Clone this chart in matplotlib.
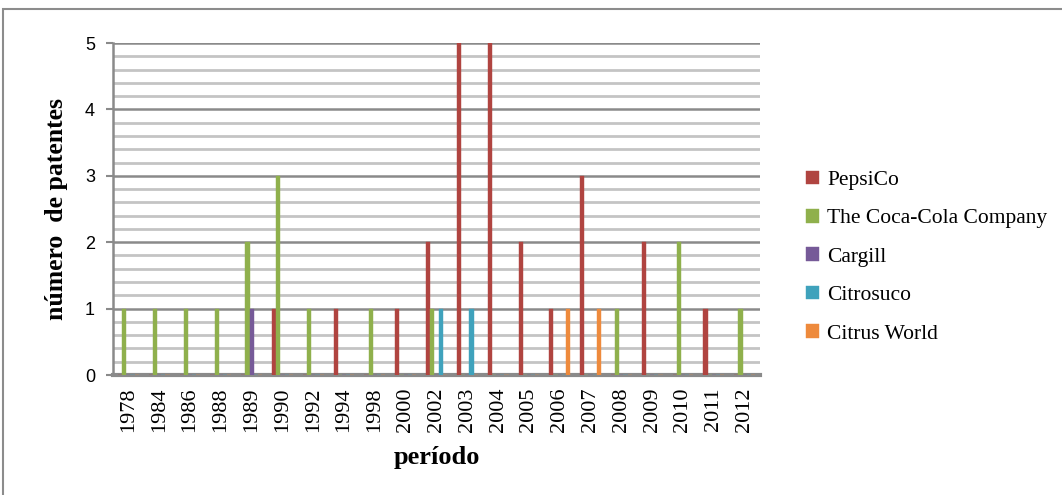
import numpy as np
import matplotlib
matplotlib.use('Agg')
import matplotlib.pyplot as plt
from matplotlib.patches import Rectangle

# dados do gráfico
anos = ['1978', '1984', '1986', '1988', '1989', '1990', '1992', '1994', '1998', '2000', '2002',
        '2003', '2004', '2005', '2006', '2007', '2008', '2009', '2010', '2011', '2012']
pepsico = [0, 0, 0, 0, 0, 1, 0, 1, 0, 1, 2, 5, 5, 2, 1, 3, 0, 2, 0, 1, 0]
cocacola = [1, 1, 1, 1, 2, 3, 1, 0, 1, 0, 1, 0, 0, 0, 0, 0, 1, 0, 2, 0, 1]
cargill = [0, 0, 0, 0, 1, 0, 0, 0, 0, 0, 0, 0, 0, 0, 0, 0, 0, 0, 0, 0, 0]
citrosuco = [0, 0, 0, 0, 0, 0, 0, 0, 0, 0, 1, 1, 0, 0, 0, 0, 0, 0, 0, 0, 0]
citrusworld = [0, 0, 0, 0, 0, 0, 0, 0, 0, 0, 0, 0, 0, 0, 1, 1, 0, 0, 0, 0, 0]

series = [('PepsiCo', pepsico, '#B04440'),
          ('The Coca-Cola Company', cocacola, '#8FB04C'),
          ('Cargill', cargill, '#765A98'),
          ('Citrosuco', citrosuco, '#3FA2BC'),
          ('Citrus World', citrusworld, '#EE8A3C')]

fig = plt.figure(figsize=(10.62, 4.95), dpi=100)
# moldura externa
fig.patches.append(Rectangle((3 / 1062, -0.1), 1.2, (495 - 9) / 495 + 0.1, transform=fig.transFigure,
                             fill=False, edgecolor='#8C8C8C', linewidth=1.5))

ax = fig.add_axes([113 / 1062, 1 - 375 / 495, (760 - 113) / 1062, (375 - 43) / 495])

x = np.arange(len(anos))
w = 0.135
for i, (nome, vals, cor) in enumerate(series):
    ax.bar(x + (i - 2) * w, vals, width=w, color=cor, edgecolor=cor, linewidth=0.3,
           label=nome, zorder=3)

# linhas de grade (principais e secundárias)
for v in np.arange(0.2, 5.01, 0.2):
    if abs(v - round(v)) < 1e-6:
        ax.axhline(v, color='#8A8A8A', linewidth=1.8, zorder=1)
    else:
        ax.axhline(v, color='#C4C4C4', linewidth=2, zorder=1)

ax.set_xlim(-0.5, len(anos) - 0.5)
ax.set_ylim(0, 5)
ax.set_yticks(range(6))
ax.set_yticklabels([str(v) for v in range(6)], fontsize=13, family='Liberation Sans')
ax.set_xticks(x)
ax.set_xticklabels(anos, rotation=90, fontsize=16, family='Liberation Serif')
ax.tick_params(axis='x', length=0, pad=9)
ax.tick_params(axis='y', length=5, color='#8A8A8A', width=1.5, pad=8)

for s in ['top', 'right']:
    ax.spines[s].set_visible(False)
ax.spines['left'].set_color('#8A8A8A')
ax.spines['left'].set_linewidth(1.8)
ax.spines['bottom'].set_color('#8A8A8A')
ax.spines['bottom'].set_linewidth(3)

ax.set_xlabel('período', fontsize=19, fontweight='bold', family='Liberation Serif', labelpad=10)
ax.set_ylabel('número  de patentes', fontsize=18.5, fontweight='bold', family='Liberation Serif', labelpad=12)

fig.legend(loc='upper left', bbox_to_anchor=(797 / 1062, 1 - 162 / 495), frameon=False,
           prop={'family': 'Liberation Serif', 'size': 15.5}, handlelength=0.6, handleheight=0.6,
           handletextpad=0.4, labelspacing=0.88, borderaxespad=0)

fig.savefig('out.png', dpi=100)
